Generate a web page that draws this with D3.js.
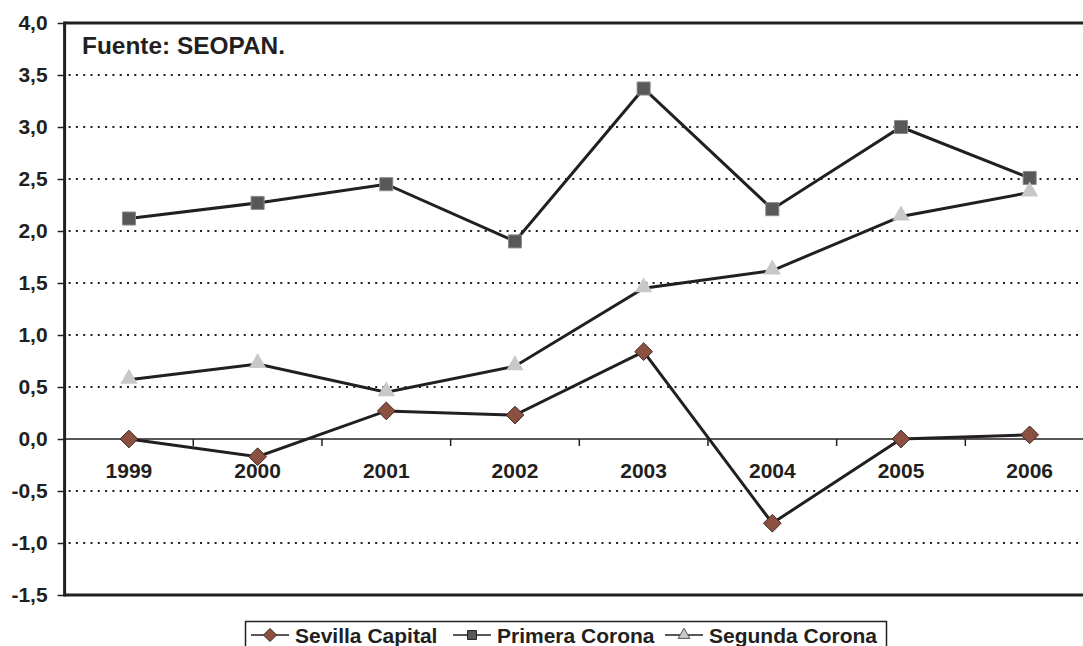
<!DOCTYPE html>
<html><head><meta charset="utf-8">
<script src="https://cdn.jsdelivr.net/npm/d3@7"></script>
<style>body{margin:0;background:#fff;}svg{display:block;font-family:"Liberation Sans",Arial,sans-serif;}</style>
</head><body>
<svg id="c" width="1083" height="646"></svg>
<script>
const years = ["1999","2000","2001","2002","2003","2004","2005","2006"];
const sevilla = [0.0, -0.17, 0.27, 0.23, 0.84, -0.81, 0.0, 0.04];
const primera = [2.12, 2.27, 2.45, 1.90, 3.37, 2.21, 3.0, 2.51];
const segunda = [0.57, 0.72, 0.45, 0.70, 1.45, 1.62, 2.14, 2.37];
const yTicks = [4.0, 3.5, 3.0, 2.5, 2.0, 1.5, 1.0, 0.5, 0.0, -0.5, -1.0, -1.5];
const seriesNames = ["Sevilla Capital", "Primera Corona", "Segunda Corona"];

const svg = d3.select("#c");
const L = 64.6, R = 1094, T = 23, B = 595;
const x = d3.scaleBand().domain(years).range([L, R]);
const y = d3.scaleLinear().domain([-1.5, 4.0]).range([B, T]);
const fmt = v => d3.format(".1f")(v).replace(".", ",").replace("−", "-");

// dotted gridlines
svg.append("g").selectAll("line").data(yTicks.filter(v => v !== 0 && v !== 4 && v !== -1.5)).join("line")
  .attr("x1", L + 4).attr("x2", 1083).attr("y1", d => y(d)).attr("y2", d => y(d))
  .attr("stroke", "#231f20").attr("stroke-width", 2).attr("stroke-dasharray", "2,5.3");

// y axis
const yAxis = d3.axisLeft(y).tickValues(yTicks).tickFormat(fmt).tickSize(7).tickPadding(10);
const gy = svg.append("g").attr("transform", `translate(${L},0)`).call(yAxis);
gy.select(".domain").remove();
gy.selectAll(".tick line").attr("stroke", "#231f20").attr("stroke-width", 1.5);
gy.selectAll(".tick text").attr("font-size", 21).attr("font-weight", "bold").attr("fill", "#231f20")
  .attr("font-family", "Liberation Sans, Arial, sans-serif");

// zero axis with category ticks
svg.append("line").attr("x1", L).attr("x2", 1083).attr("y1", y(0)).attr("y2", y(0))
  .attr("stroke", "#231f20").attr("stroke-width", 1.5);
svg.append("g").selectAll("line").data(years.slice(1)).join("line")
  .attr("x1", d => x(d)).attr("x2", d => x(d)).attr("y1", y(0)).attr("y2", y(0) + 7)
  .attr("stroke", "#231f20").attr("stroke-width", 1.5);
svg.append("g").selectAll("text").data(years).join("text")
  .attr("x", d => x(d) + x.bandwidth() / 2).attr("y", y(0) + 39)
  .attr("text-anchor", "middle").attr("font-size", 21).attr("font-weight", "bold").attr("fill", "#231f20")
  .text(d => d);

// frame
svg.append("line").attr("x1", L).attr("x2", 1083).attr("y1", T).attr("y2", T).attr("stroke", "#231f20").attr("stroke-width", 3);
svg.append("line").attr("x1", L).attr("x2", 1083).attr("y1", B).attr("y2", B).attr("stroke", "#231f20").attr("stroke-width", 3);
svg.append("line").attr("x1", L).attr("x2", L).attr("y1", T - 1.5).attr("y2", B + 1.5).attr("stroke", "#231f20").attr("stroke-width", 3);

// source
svg.append("text").attr("x", 82).attr("y", 54).attr("font-size", 24).attr("font-weight", "bold")
  .attr("fill", "#231f20").attr("textLength", 203).attr("lengthAdjust", "spacingAndGlyphs").text("Fuente: SEOPAN.");

const cx = (d, i) => x(years[i]) + x.bandwidth() / 2;
const line = d3.line().x((d, i) => cx(d, i)).y(d => y(d));
const data = [sevilla, primera, segunda];
data.forEach(s => {
  svg.append("path").attr("d", line(s)).attr("fill", "none").attr("stroke", "#231f20").attr("stroke-width", 3);
});

const diamond = d3.symbol().type(d3.symbolDiamond2).size(200);
const square = d3.symbol().type(d3.symbolSquare).size(170);
const tri = d3.symbol().type(d3.symbolTriangle).size(130);
function drawMarker(g, type, px, py) {
  if (type === 0) g.append("path").attr("d", diamond()).attr("transform", `translate(${px},${py})`)
    .attr("fill", "#8c5040").attr("stroke", "#3a2a25").attr("stroke-width", 1);
  else if (type === 1) g.append("path").attr("d", square()).attr("transform", `translate(${px},${py})`)
    .attr("fill", "#58585a").attr("stroke", "#8a8a8a").attr("stroke-width", 1);
  else g.append("path").attr("d", tri()).attr("transform", `translate(${px},${py - 1})`)
    .attr("fill", "#c8c8c8").attr("stroke", "none");
}
const mg = svg.append("g");
data.forEach((s, k) => s.forEach((v, i) => drawMarker(mg, k, cx(v, i), y(v))));

// legend
const lg = svg.append("g");
lg.append("rect").attr("x", 245.5).attr("y", 621.5).attr("width", 641).attr("height", 40)
  .attr("fill", "#fff").attr("stroke", "#231f20").attr("stroke-width", 1.5);
const legX = [251, 453, 665];
seriesNames.forEach((n, k) => {
  const lx = legX[k], ly = 635;
  lg.append("line").attr("x1", lx).attr("x2", lx + 38).attr("y1", ly).attr("y2", ly).attr("stroke", "#231f20").attr("stroke-width", 1.5);
  const sym = k === 0 ? d3.symbol().type(d3.symbolDiamond2).size(110) : k === 1 ? d3.symbol().type(d3.symbolSquare).size(80) : d3.symbol().type(d3.symbolTriangle).size(60);
  lg.append("path").attr("d", sym()).attr("transform", `translate(${lx + 19},${ly})`)
    .attr("fill", k === 0 ? "#8c5040" : k === 1 ? "#58585a" : "#c8c8c8")
    .attr("stroke", k === 0 ? "#3a2a25" : k === 1 ? "#231f20" : "#555").attr("stroke-width", 1);
  lg.append("text").attr("x", lx + 44).attr("y", ly + 8).attr("font-size", 21).attr("font-weight", "bold")
    .attr("fill", "#231f20").text(n);
});
</script>
</body></html>
